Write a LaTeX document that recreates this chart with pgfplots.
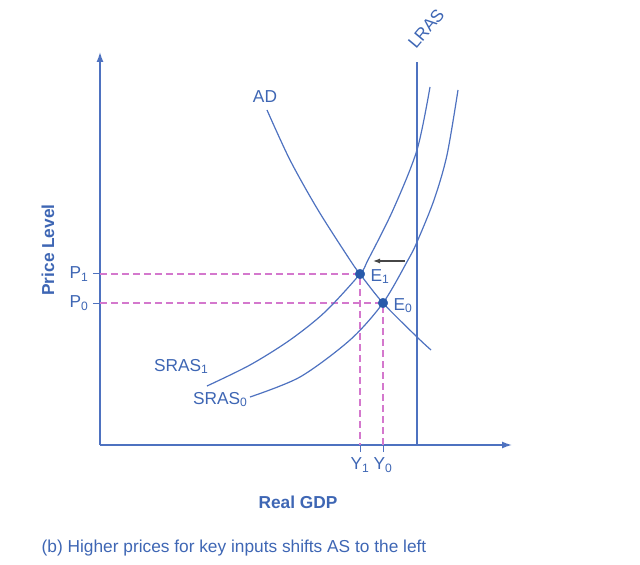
\documentclass[border=0pt]{standalone}
\usepackage{pgfplots}
\pgfplotsset{compat=1.18}
\usetikzlibrary{arrows.meta}
\usepackage{fontspec}
\setmainfont{Liberation Sans}
\definecolor{lineblue}{RGB}{78,114,192}
\definecolor{textblue}{RGB}{62,102,180}
\definecolor{dotblue}{RGB}{40,90,170}
\definecolor{dashpink}{RGB}{212,120,205}
\definecolor{arrowgray}{RGB}{70,70,70}
\newcommand{\lbl}{\fontsize{17.3}{19}\selectfont}
\begin{document}
\begin{tikzpicture}
\begin{axis}[
  scale only axis,
  width=412pt, height=393pt,
  xmin=100, xmax=512, ymin=120, ymax=513,
  axis lines=left,
  axis line style={lineblue, line width=1.4pt, -{Latex[length=10pt,width=7pt]}},
  clip=false,
  xtick={360,383}, xticklabels={Y\textsubscript{1}, Y\textsubscript{0}},
  ytick={262,291}, yticklabels={P\textsubscript{0}, P\textsubscript{1}},
  tick align=outside, major tick length=7pt,
  tick style={lineblue, line width=1pt},
  ticklabel style={font=\lbl, text=textblue},
  xticklabel style={yshift=-2pt},
  yticklabel style={xshift=-1pt},
]
\path (axis cs:0,0) rectangle (axis cs:640,565);
% dashed guides
\addplot[dashpink, line width=1.2pt, dash pattern=on 7pt off 4pt] coordinates {(100,291) (360,291) (360,120)};
\addplot[dashpink, line width=1.2pt, dash pattern=on 7pt off 4pt] coordinates {(100,262) (383,262) (383,120)};
% LRAS
\addplot[lineblue, line width=1.4pt] coordinates {(417,120) (417,503)};
% AD
\addplot[lineblue, line width=1.2pt, smooth] coordinates {(267,455) (290,405) (318,355) (350,305) (360,291) (383,262) (417,228) (431,215)};
% SRAS1
\addplot[lineblue, line width=1.2pt, smooth] coordinates {(207,179) (250,200) (290,225) (325,253) (360,291) (368,305) (393,355) (417,415) (430,478)};
% SRAS0
\addplot[lineblue, line width=1.2pt, smooth] coordinates {(250,168) (300,188) (350,225) (383,262) (408,305) (417,323) (434,365) (447,410) (458,475)};
% shift arrow
\addplot[arrowgray, line width=1.2pt, -{Latex[length=7pt,width=5pt]}] coordinates {(405,304) (373,304)};
% equilibrium points
\addplot[only marks, mark=*, mark size=4.8pt, dotblue] coordinates {(360,291) (383,262)};
% labels
\node[text=textblue, font=\lbl] at (axis cs:265,468) {AD};
\node[text=textblue, font=\lbl, anchor=base east] at (axis cs:212,194) {SRAS\textsubscript{1}};
\node[text=textblue, font=\lbl, anchor=base east] at (axis cs:251,161) {SRAS\textsubscript{0}};
\node[text=textblue, font=\lbl, anchor=base west] at (axis cs:367,284) {E\textsubscript{1}};
\node[text=textblue, font=\lbl, anchor=base west] at (axis cs:390,255) {E\textsubscript{0}};
\node[text=textblue, font=\lbl, rotate=50, anchor=base west, inner sep=0pt] at (axis cs:416,515) {LRAS};
\node[text=textblue, font=\bfseries\lbl, rotate=90] at (axis cs:48,315) {Price Level};
\node[text=textblue, font=\bfseries\lbl] at (axis cs:298,63) {Real GDP};
\node[text=textblue, font=\lbl] at (axis cs:234,17) {(b) Higher prices for key inputs shifts AS to the left};
\end{axis}
\end{tikzpicture}
\end{document}
